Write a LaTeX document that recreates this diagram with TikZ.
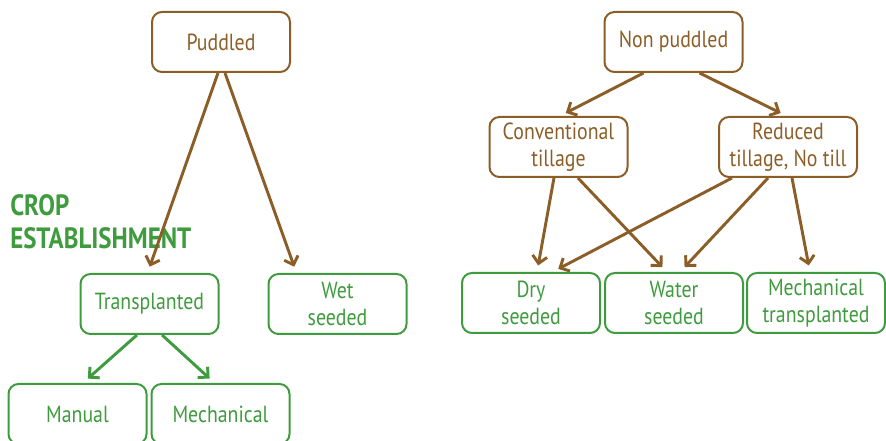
\documentclass[tikz,border=0pt]{standalone}
\usepackage{fontspec}
\setmainfont{PT Sans}[FakeStretch=0.85]
\usetikzlibrary{arrows.meta, positioning}
\definecolor{soil}{RGB}{139,94,40}
\definecolor{leaf}{RGB}{62,155,62}

\begin{document}
\begin{tikzpicture}[x=0.75pt, y=-0.75pt,
            box/.style={draw=soil, text=soil, line width=1.5pt, rounded corners=7.5pt,
                    minimum width=103.5pt, minimum height=45pt, inner sep=0pt,
                    align=center, font=\fontsize{17.5}{20.5}\selectfont},
            gbox/.style={box, draw=leaf, text=leaf},
            arr/.style={draw=soil, line width=2.2pt, shorten >=5pt,
                    -{Straight Barb[length=5.5pt, width=11pt]}},
            garr/.style={arr, draw=leaf}]
        \useasboundingbox (0,0) rectangle (886,441);

        % tillage
        \node[box] (pud)  at (221,42)   {Puddled};
        \node[box] (nonp) at (673.5,42) {Non puddled};
        \node[box] (conv) at (558.5,147) {Conventional\\tillage};
        \node[box] (red)  at (788,147)   {Reduced\\tillage, No till};

        % crop establishment
        \node[anchor=north west, align=left, text=leaf, inner sep=0pt,
              font=\fontsize{22}{25}\selectfont\bfseries] (ce) at (10,194)
              {CROP\\ESTABLISHMENT};
        \node[gbox] (trn)  at (149.5,304) {Transplanted};
        \node[gbox] (wet)  at (337.5,304) {Wet\\seeded};
        \node[gbox] (dry)  at (531,303)   {Dry\\seeded};
        \node[gbox, right=2.25pt of dry] (wat) {Water\\seeded};
        \node[gbox, right=1.5pt of wat]  (mtp) {Mechanical\\transplanted};
        \node[gbox] (man)  at (77.5,414)  {Manual};
        \node[gbox, right=2.25pt of man] (mech) {Mechanical};

        \draw[arr] ([xshift=-2.25pt]pud.south) -- ([xshift=-1.5pt]trn.north);
        \draw[arr] ([xshift=3pt]pud.south) -- ([xshift=-30.75pt]wet.north);
        \draw[arr] ([xshift=-22.5pt]nonp.south) -- ([xshift=1pt]conv.north);
        \draw[arr] ([xshift=19.5pt]nonp.south) -- ([xshift=-1pt]red.north);
        \draw[arr] ([xshift=-3.4pt]conv.south) -- ([xshift=4.5pt]dry.north);
        \draw[arr] ([xshift=14.6pt]conv.south) -- ([xshift=-5.25pt]wat.north);
        \draw[arr] ([xshift=-42pt]red.south) -- ([xshift=16pt]dry.north);
        \draw[arr] ([xshift=-15pt]red.south) -- ([xshift=4.5pt]wat.north);
        \draw[arr] ([xshift=3pt]red.south) -- ([xshift=-4.5pt]mtp.north);
        \draw[garr] ([xshift=-9.4pt]trn.south) -- ([xshift=4pt]man.north);
        \draw[garr] ([xshift=9.4pt]trn.south) -- ([xshift=-4.5pt]mech.north);
    \end{tikzpicture}
\end{document}
